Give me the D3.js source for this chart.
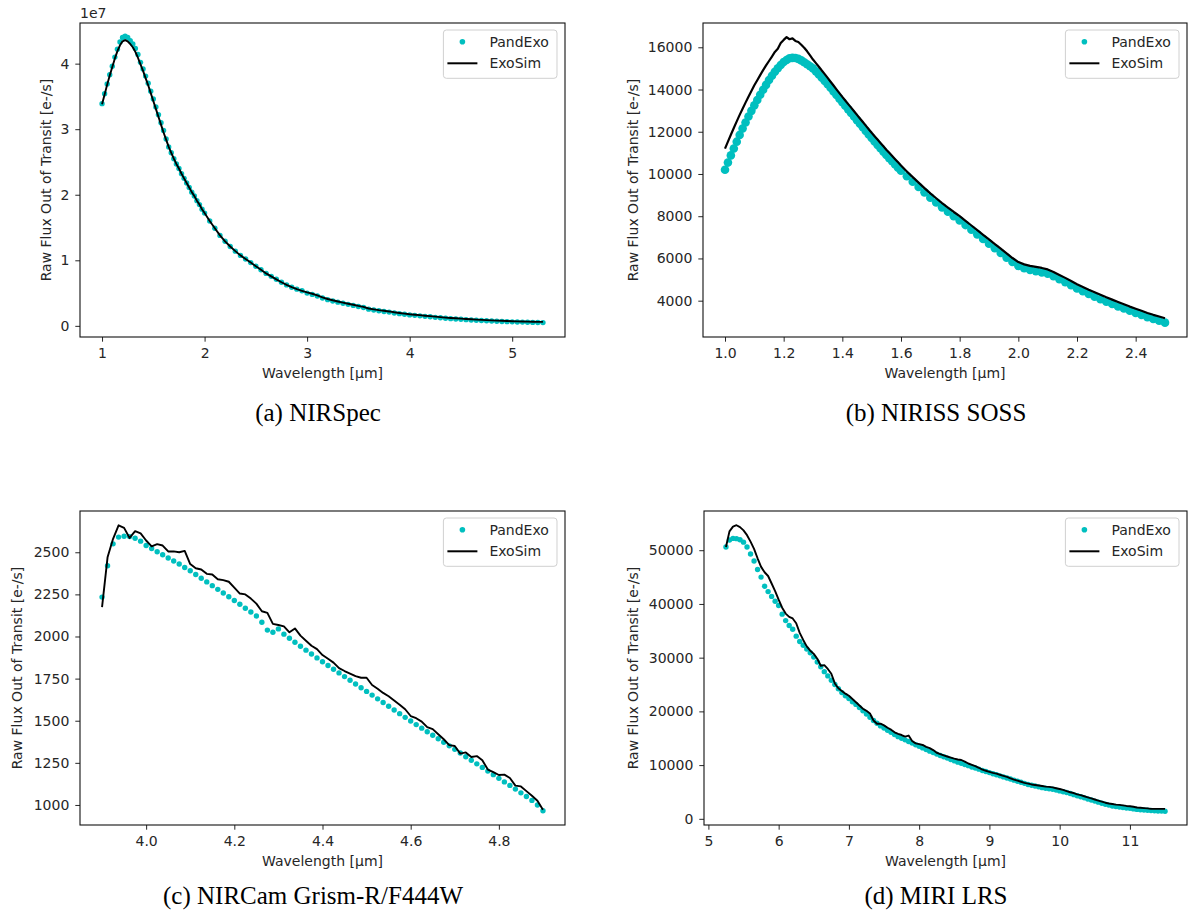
<!DOCTYPE html>
<html>
<head>
<meta charset="utf-8">
<script src="https://cdn.jsdelivr.net/npm/d3@7"></script>
<style>
  body { margin: 0; background: #fff; }
  svg text { font-family: "DejaVu Sans", sans-serif; }
  svg text.caption { font-family: "Liberation Serif", "Times New Roman", serif; }
</style>
</head>
<body>
<svg id="chart" width="1188" height="921"></svg>
<script>
// ---- data ----
const seriesNames = ["PandExo", "ExoSim"];
const captions = ["(a) NIRSpec", "(b) NIRISS SOSS", "(c) NIRCam Grism-R/F444W", "(d) MIRI LRS"];

// (a) NIRSpec, flux in units of 1e7 e-/s
const waveA = [1,1.025,1.05,1.075,1.1,1.125,1.15,1.175,1.2,1.225,
  1.25,1.275,1.3,1.325,1.35,1.375,1.4,1.425,1.45,1.475,
  1.5,1.525,1.55,1.575,1.6,1.625,1.65,1.675,1.7,1.725,
  1.75,1.775,1.8,1.825,1.85,1.875,1.9,1.925,1.95,1.975,
  2,
  2.05,2.1,2.15,2.2,2.25,2.3,2.35,2.4,2.45,2.5,
  2.55,2.6,2.65,2.7,2.75,2.8,2.85,2.9,2.95,3,
  3.05,3.1,3.15,3.2,3.25,3.3,3.35,3.4,3.45,3.5,
  3.55,3.6,3.65,3.7,3.75,3.8,3.85,3.9,3.95,4,
  4.05,4.1,4.15,4.2,4.25,4.3,4.35,4.4,4.45,4.5,
  4.55,4.6,4.65,4.7,4.75,4.8,4.85,4.9,4.95,5,
  5.05,5.1,5.15,5.2,5.25,5.3];
const pandexoA = [3.39,3.54,3.69,3.83,3.96,4.10,4.22,4.33,4.40,4.42,
  4.40,4.35,4.30,4.23,4.14,4.02,3.92,3.81,3.70,3.58,
  3.46,3.34,3.22,3.10,2.98,2.85,2.73,2.64,2.55,2.47,
  2.40,2.32,2.25,2.18,2.11,2.04,1.98,1.91,1.85,1.78,
  1.72,
  1.60,1.49,1.38,1.29,1.21,1.14,1.075,1.02,0.965,0.91,
  0.855,0.80,0.755,0.71,0.665,0.625,0.59,0.56,0.535,0.50,
  0.48,0.455,0.425,0.40,0.38,0.362,0.345,0.328,0.312,0.295,
  0.28,0.255,0.242,0.23,0.22,0.21,0.197,0.186,0.176,0.167,
  0.16,0.153,0.145,0.138,0.13,0.123,0.116,0.11,0.105,0.10,
  0.095,0.09,0.085,0.081,0.077,0.073,0.07,0.067,0.064,0.061,
  0.059,0.057,0.055,0.053,0.051,0.05];
const exosimA = [3.38,3.53,3.68,3.82,3.95,4.08,4.19,4.28,4.34,4.36,
  4.34,4.30,4.25,4.18,4.09,3.99,3.89,3.78,3.67,3.55,
  3.43,3.31,3.19,3.07,2.95,2.84,2.73,2.64,2.55,2.47,
  2.40,2.32,2.25,2.18,2.11,2.04,1.98,1.91,1.85,1.78,
  1.72,
  1.60,1.49,1.38,1.29,1.21,1.14,1.075,1.02,0.965,0.91,
  0.855,0.80,0.755,0.71,0.665,0.625,0.59,0.56,0.535,0.51,
  0.49,0.465,0.435,0.41,0.39,0.372,0.355,0.338,0.322,0.305,
  0.29,0.265,0.252,0.24,0.23,0.22,0.207,0.196,0.186,0.177,
  0.17,0.163,0.155,0.148,0.14,0.133,0.126,0.12,0.115,0.11,
  0.105,0.10,0.095,0.091,0.087,0.083,0.08,0.077,0.074,0.071,
  0.069,0.067,0.065,0.063,0.061,0.06];

// (b) NIRISS SOSS
const waveB = [1,1.01,1.02,1.03,1.04,1.05,1.06,1.07,1.08,1.09,
  1.1,1.11,1.12,1.13,1.14,1.15,1.16,1.17,1.18,1.19,
  1.2,1.21,1.22,1.23,1.24,1.25,1.26,1.27,1.28,1.29,
  1.3,1.31,1.32,1.33,1.34,1.35,1.36,1.37,1.38,1.39,
  1.4,1.41,1.42,1.43,1.44,1.45,1.46,1.47,1.48,1.49,
  1.5,1.51,1.52,1.53,1.54,1.55,1.56,1.57,1.58,1.59,
  1.6,
  1.62,1.64,1.66,1.68,1.7,1.72,1.74,1.76,1.78,1.8,
  1.82,1.84,1.86,1.88,1.9,1.92,1.94,1.96,1.98,2,
  2.02,2.04,2.06,2.08,2.1,2.12,2.14,2.16,2.18,2.2,
  2.22,2.24,2.26,2.28,2.3,2.32,2.34,2.36,2.38,2.4,
  2.42,2.44,2.46,2.48,2.5];
const pandexoB = [10200,10540,10880,11210,11530,11850,12150,12440,12720,12990,
  13250,13500,13750,13990,14220,14450,14650,14840,15010,15160,
  15300,15400,15480,15500,15490,15450,15380,15290,15200,15100,
  15000,14860,14710,14560,14400,14250,14080,13910,13740,13570,
  13400,13230,13060,12890,12720,12550,12380,12210,12040,11870,
  11700,11540,11380,11220,11060,10900,10750,10600,10450,10300,
  10150,
  9890,9630,9380,9130,8880,8650,8420,8210,8000,7800,
  7580,7360,7140,6920,6700,6480,6260,6040,5830,5650,
  5540,5460,5400,5340,5280,5160,5020,4880,4730,4580,
  4450,4320,4190,4070,3950,3840,3730,3630,3520,3420,
  3320,3220,3130,3050,2960];
const exosimB = [11200,11530,11860,12180,12490,12800,13090,13380,13660,13930,
  14200,14440,14680,14920,15140,15350,15560,15780,15930,16200,
  16350,16480,16380,16420,16300,16250,16120,15980,15810,15620,
  15420,15250,15080,14900,14730,14550,14370,14190,14010,13830,
  13650,13480,13310,13140,12970,12800,12630,12460,12290,12120,
  11950,11790,11630,11470,11310,11150,11000,10850,10700,10550,
  10400,
  10120,9850,9590,9330,9080,8850,8620,8410,8200,8000,
  7780,7560,7340,7120,6900,6680,6460,6240,6020,5830,
  5720,5650,5600,5550,5480,5360,5220,5080,4930,4780,
  4650,4520,4400,4280,4160,4050,3940,3830,3720,3620,
  3520,3420,3330,3250,3170];

// (c) NIRCam Grism-R/F444W
const waveC = [3.9,3.9125,3.925,3.9375,3.95,3.9625,3.975,3.9875,
  4,4.0125,4.025,4.0375,4.05,4.0625,4.075,4.0875,
  4.1,4.1125,4.125,4.1375,4.15,4.1625,4.175,4.1875,
  4.2,4.2125,4.225,4.2375,4.25,4.2625,4.275,4.2875,
  4.3,4.3125,4.325,4.3375,4.35,4.3625,4.375,4.3875,
  4.4,4.4125,4.425,4.4375,4.45,4.4625,4.475,4.4875,
  4.5,4.5125,4.525,4.5375,4.55,4.5625,4.575,4.5875,
  4.6,4.6125,4.625,4.6375,4.65,4.6625,4.675,4.6875,
  4.7,4.7125,4.725,4.7375,4.75,4.7625,4.775,4.7875,
  4.8,4.8125,4.825,4.8375,4.85,4.8625,4.875,4.8875,
  4.9];
const pandexoC = [2234,2420,2550,2590,2595,2593,2583,2566,
  2540,2522,2503,2485,2466,2448,2430,2410,
  2390,2368,2346,2324,2302,2280,2258,2236,
  2214,2191,2168,2145,2122,2085,2038,2025,
  2045,2014,1990,1966,1942,1919,1896,1873,
  1850,1828,1806,1784,1762,1740,1718,1696,
  1674,1652,1630,1608,1586,1564,1542,1520,
  1498,1477,1456,1435,1414,1393,1372,1351,
  1330,1308,1286,1265,1244,1223,1201,1180,
  1158,1137,1116,1094,1072,1050,1027,1000,
  966];
const exosimC = [2174,2470,2580,2660,2645,2585,2625,2612,
  2570,2535,2548,2540,2505,2505,2500,2508,
  2430,2405,2398,2372,2368,2340,2335,2325,
  2290,2255,2250,2225,2195,2150,2140,2075,
  2068,2060,2025,2048,2005,1975,1945,1925,
  1890,1868,1845,1812,1795,1780,1765,1755,
  1755,1712,1690,1665,1645,1620,1595,1568,
  1528,1515,1495,1462,1450,1420,1390,1355,
  1350,1305,1312,1285,1290,1265,1210,1195,
  1178,1180,1160,1115,1110,1082,1055,1025,
  972];

// (d) MIRI LRS
const waveD = [5.25,5.3,5.35,5.4,5.45,5.5,5.55,5.6,5.65,5.7,
  5.75,5.8,5.85,5.9,5.95,6,6.05,6.1,6.15,6.2,
  6.25,6.3,6.35,6.4,6.45,6.5,6.55,6.6,6.65,6.7,
  6.75,6.8,6.85,6.9,6.95,7,7.05,7.1,7.15,7.2,
  7.25,7.3,7.35,7.4,7.45,7.5,7.55,7.6,7.65,7.7,
  7.75,7.8,7.85,7.9,7.95,8,8.05,8.1,8.15,8.2,
  8.25,8.3,8.35,8.4,8.45,8.5,8.55,8.6,8.65,8.7,
  8.75,8.8,8.85,8.9,8.95,9,9.05,9.1,9.15,9.2,
  9.25,9.3,9.35,9.4,9.45,9.5,9.55,9.6,9.65,9.7,
  9.75,9.8,9.85,9.9,9.95,10,10.05,10.1,10.15,10.2,
  10.25,10.3,10.35,10.4,10.45,10.5,10.55,10.6,10.65,10.7,
  10.75,10.8,10.85,10.9,10.95,11,11.05,11.1,11.15,11.2,
  11.25,11.3,11.35,11.4,11.45,11.5];
const pandexoD = [50600,51900,52200,52150,51950,51500,50600,49300,48000,46400,
  45000,43300,42300,41400,40500,39700,38100,36900,36000,35300,
  34000,33000,32300,31600,30900,30100,29200,28300,27400,26600,
  25800,25000,24200,23500,22900,22400,21800,21300,20700,20100,
  19500,18900,18300,17800,17300,16900,16500,16100,15700,15300,
  15000,14700,14400,14100,13800,13500,13200,12900,12600,12350,
  12050,11800,11550,11300,11050,10800,10550,10350,10100,9900,
  9650,9450,9250,9000,8800,8600,8400,8200,8000,7800,
  7600,7400,7200,7000,6800,6600,6400,6250,6100,5950,
  5800,5700,5600,5500,5350,5200,5050,4900,4700,4500,
  4300,4100,3900,3700,3500,3300,3100,2900,2700,2550,
  2400,2300,2200,2100,2000,1950,1850,1750,1700,1650,
  1600,1550,1500,1450,1450,1400];
const exosimD = [50600,53500,54400,54650,54300,53700,52800,51600,50250,48500,
  46900,45900,45200,43800,42400,40800,39300,38200,37600,37300,
  36400,34600,33300,32100,31300,30700,29800,28500,28600,27900,
  27000,25200,24300,23800,23300,22900,22300,21700,21100,20500,
  20100,19600,18300,17700,17700,17400,16950,16600,16100,15800,
  15600,15300,15500,14500,14050,13900,13750,13400,13150,12800,
  12300,12050,11800,11600,11400,11200,11050,10950,10650,10300,
  10050,9800,9500,9150,8950,8750,8550,8400,8200,8000,
  7800,7550,7300,7100,6900,6700,6550,6400,6300,6200,
  6100,6000,5950,5850,5700,5550,5400,5150,4950,4800,
  4550,4400,4200,4000,3800,3600,3400,3200,3000,2850,
  2750,2650,2600,2500,2400,2350,2250,2100,2050,2000,
  1950,1850,1850,1850,1850,1850];

// tick values
const xTicksA = [1, 2, 3, 4, 5];
const yTicksA = [0, 1, 2, 3, 4];
const xTicksB = [1.0, 1.2, 1.4, 1.6, 1.8, 2.0, 2.2, 2.4];
const yTicksB = [4000, 6000, 8000, 10000, 12000, 14000, 16000];
const xTicksC = [4.0, 4.2, 4.4, 4.6, 4.8];
const yTicksC = [1000, 1250, 1500, 1750, 2000, 2250, 2500];
const xTicksD = [5, 6, 7, 8, 9, 10, 11];
const yTicksD = [0, 10000, 20000, 30000, 40000, 50000];

const svg = d3.select("#chart");
const cyan = "#00bfbf";
const axisColor = "#262626";

function drawPanel(cfg) {
  const [x0, x1, y0, y1] = cfg.box;
  const x = d3.scaleLinear().domain(cfg.xDomain).range([x0, x1]);
  const y = d3.scaleLinear().domain(cfg.yDomain).range([y1, y0]);
  const g = svg.append("g");

  const pts = cfg.wave.map(function(w, i) {
    return { w: w, p: cfg.pandexo[i], e: cfg.exosim[i] };
  });

  // PandExo dots
  g.append("g").selectAll("circle")
    .data(pts)
    .join("circle")
    .attr("cx", d => x(d.w))
    .attr("cy", d => y(d.p))
    .attr("r", cfg.dotR)
    .attr("fill", cyan);

  // ExoSim line on top
  const line = d3.line().x(d => x(d.w)).y(d => y(d.e));
  g.append("path")
    .datum(pts)
    .attr("d", line)
    .attr("fill", "none")
    .attr("stroke", "#000")
    .attr("stroke-width", cfg.lineW)
    .attr("stroke-linejoin", "round");

  // axes
  const gx = g.append("g")
    .attr("transform", "translate(0," + y1 + ")")
    .call(d3.axisBottom(x).tickValues(cfg.xTicks).tickFormat(cfg.xFmt).tickSize(4.7).tickPadding(6.5));
  const gy = g.append("g")
    .attr("transform", "translate(" + x0 + ",0)")
    .call(d3.axisLeft(y).tickValues(cfg.yTicks).tickFormat(cfg.yFmt).tickSize(4.7).tickPadding(6));
  [gx, gy].forEach(function(a) {
    a.select(".domain").remove();
    a.selectAll("line").attr("stroke", axisColor).attr("stroke-width", 1);
    a.selectAll("text")
      .attr("fill", axisColor)
      .style("font-size", "14px")
      .style("font-family", "'DejaVu Sans', sans-serif");
  });

  // spines
  g.append("rect")
    .attr("x", x0).attr("y", y0)
    .attr("width", x1 - x0).attr("height", y1 - y0)
    .attr("fill", "none")
    .attr("stroke", "#111")
    .attr("stroke-width", 1.1);

  // axis labels
  g.append("text")
    .attr("x", (x0 + x1) / 2)
    .attr("y", y1 + 41)
    .attr("text-anchor", "middle")
    .attr("fill", axisColor)
    .style("font-size", "14px")
    .text("Wavelength [µm]");

  g.append("text")
    .attr("transform", "translate(" + (x0 - cfg.ylabOff) + "," + ((y0 + y1) / 2) + ") rotate(-90)")
    .attr("dy", "0.35em")
    .attr("text-anchor", "middle")
    .attr("fill", axisColor)
    .style("font-size", "14px")
    .text("Raw Flux Out of Transit [e-/s]");

  if (cfg.offsetText) {
    g.append("text")
      .attr("x", x0)
      .attr("y", y0 - 5)
      .attr("fill", axisColor)
      .style("font-size", "14px")
      .text(cfg.offsetText);
  }

  // legend
  const lw = 113.6, lh = 48.3;
  const lg = g.append("g")
    .attr("transform", "translate(" + (x1 - 8 - lw) + "," + (y0 + 7) + ")");
  lg.append("rect")
    .attr("width", lw).attr("height", lh)
    .attr("rx", 3)
    .attr("fill", "#fff").attr("fill-opacity", 0.8)
    .attr("stroke", "#d0d0d0");
  lg.append("circle")
    .attr("cx", 19).attr("cy", 11.7)
    .attr("r", 2.8)
    .attr("fill", cyan);
  lg.append("line")
    .attr("x1", 4).attr("x2", 34)
    .attr("y1", 33.3).attr("y2", 33.3)
    .attr("stroke", "#000").attr("stroke-width", 2);
  lg.selectAll("text.leg")
    .data(seriesNames)
    .join("text")
    .attr("class", "leg")
    .attr("x", 46)
    .attr("y", (d, i) => 11.7 + i * 21.6)
    .attr("dy", "0.35em")
    .attr("fill", axisColor)
    .style("font-size", "14px")
    .text(d => d);

  // caption
  svg.append("text")
    .attr("class", "caption")
    .attr("x", cfg.capX)
    .attr("y", cfg.capY)
    .attr("text-anchor", "middle")
    .attr("fill", "#000")
    .style("font-size", "25px")
    .text(cfg.caption);
}

drawPanel({
  box: [80, 565, 23, 337],
  xDomain: [0.785, 5.515], yDomain: [-0.17, 4.62],
  wave: waveA, pandexo: pandexoA, exosim: exosimA,
  xTicks: xTicksA, yTicks: yTicksA, xFmt: d3.format("d"), yFmt: d3.format("d"),
  dotR: 2.7, lineW: 1.9, ylabOff: 34, offsetText: "1e7",
  caption: captions[0], capX: 318, capY: 421
});
drawPanel({
  box: [703, 1187, 23, 337],
  xDomain: [0.925, 2.575], yDomain: [2280, 17150],
  wave: waveB, pandexo: pandexoB, exosim: exosimB,
  xTicks: xTicksB, yTicks: yTicksB, xFmt: d3.format(".1f"), yFmt: d3.format("d"),
  dotR: 4.3, lineW: 2.2, ylabOff: 70,
  caption: captions[1], capX: 936, capY: 421
});
drawPanel({
  box: [80, 565, 511, 825],
  xDomain: [3.85, 4.95], yDomain: [881, 2745],
  wave: waveC, pandexo: pandexoC, exosim: exosimC,
  xTicks: xTicksC, yTicks: yTicksC, xFmt: d3.format(".1f"), yFmt: d3.format("d"),
  dotR: 2.7, lineW: 1.9, ylabOff: 63,
  caption: captions[2], capX: 313, capY: 904
});
drawPanel({
  box: [704, 1187, 511, 825],
  xDomain: [4.9375, 11.8125], yDomain: [-1150, 57300],
  wave: waveD, pandexo: pandexoD, exosim: exosimD,
  xTicks: xTicksD, yTicks: yTicksD, xFmt: d3.format("d"), yFmt: d3.format("d"),
  dotR: 2.7, lineW: 1.9, ylabOff: 71,
  caption: captions[3], capX: 936, capY: 904
});
</script>
</body>
</html>
